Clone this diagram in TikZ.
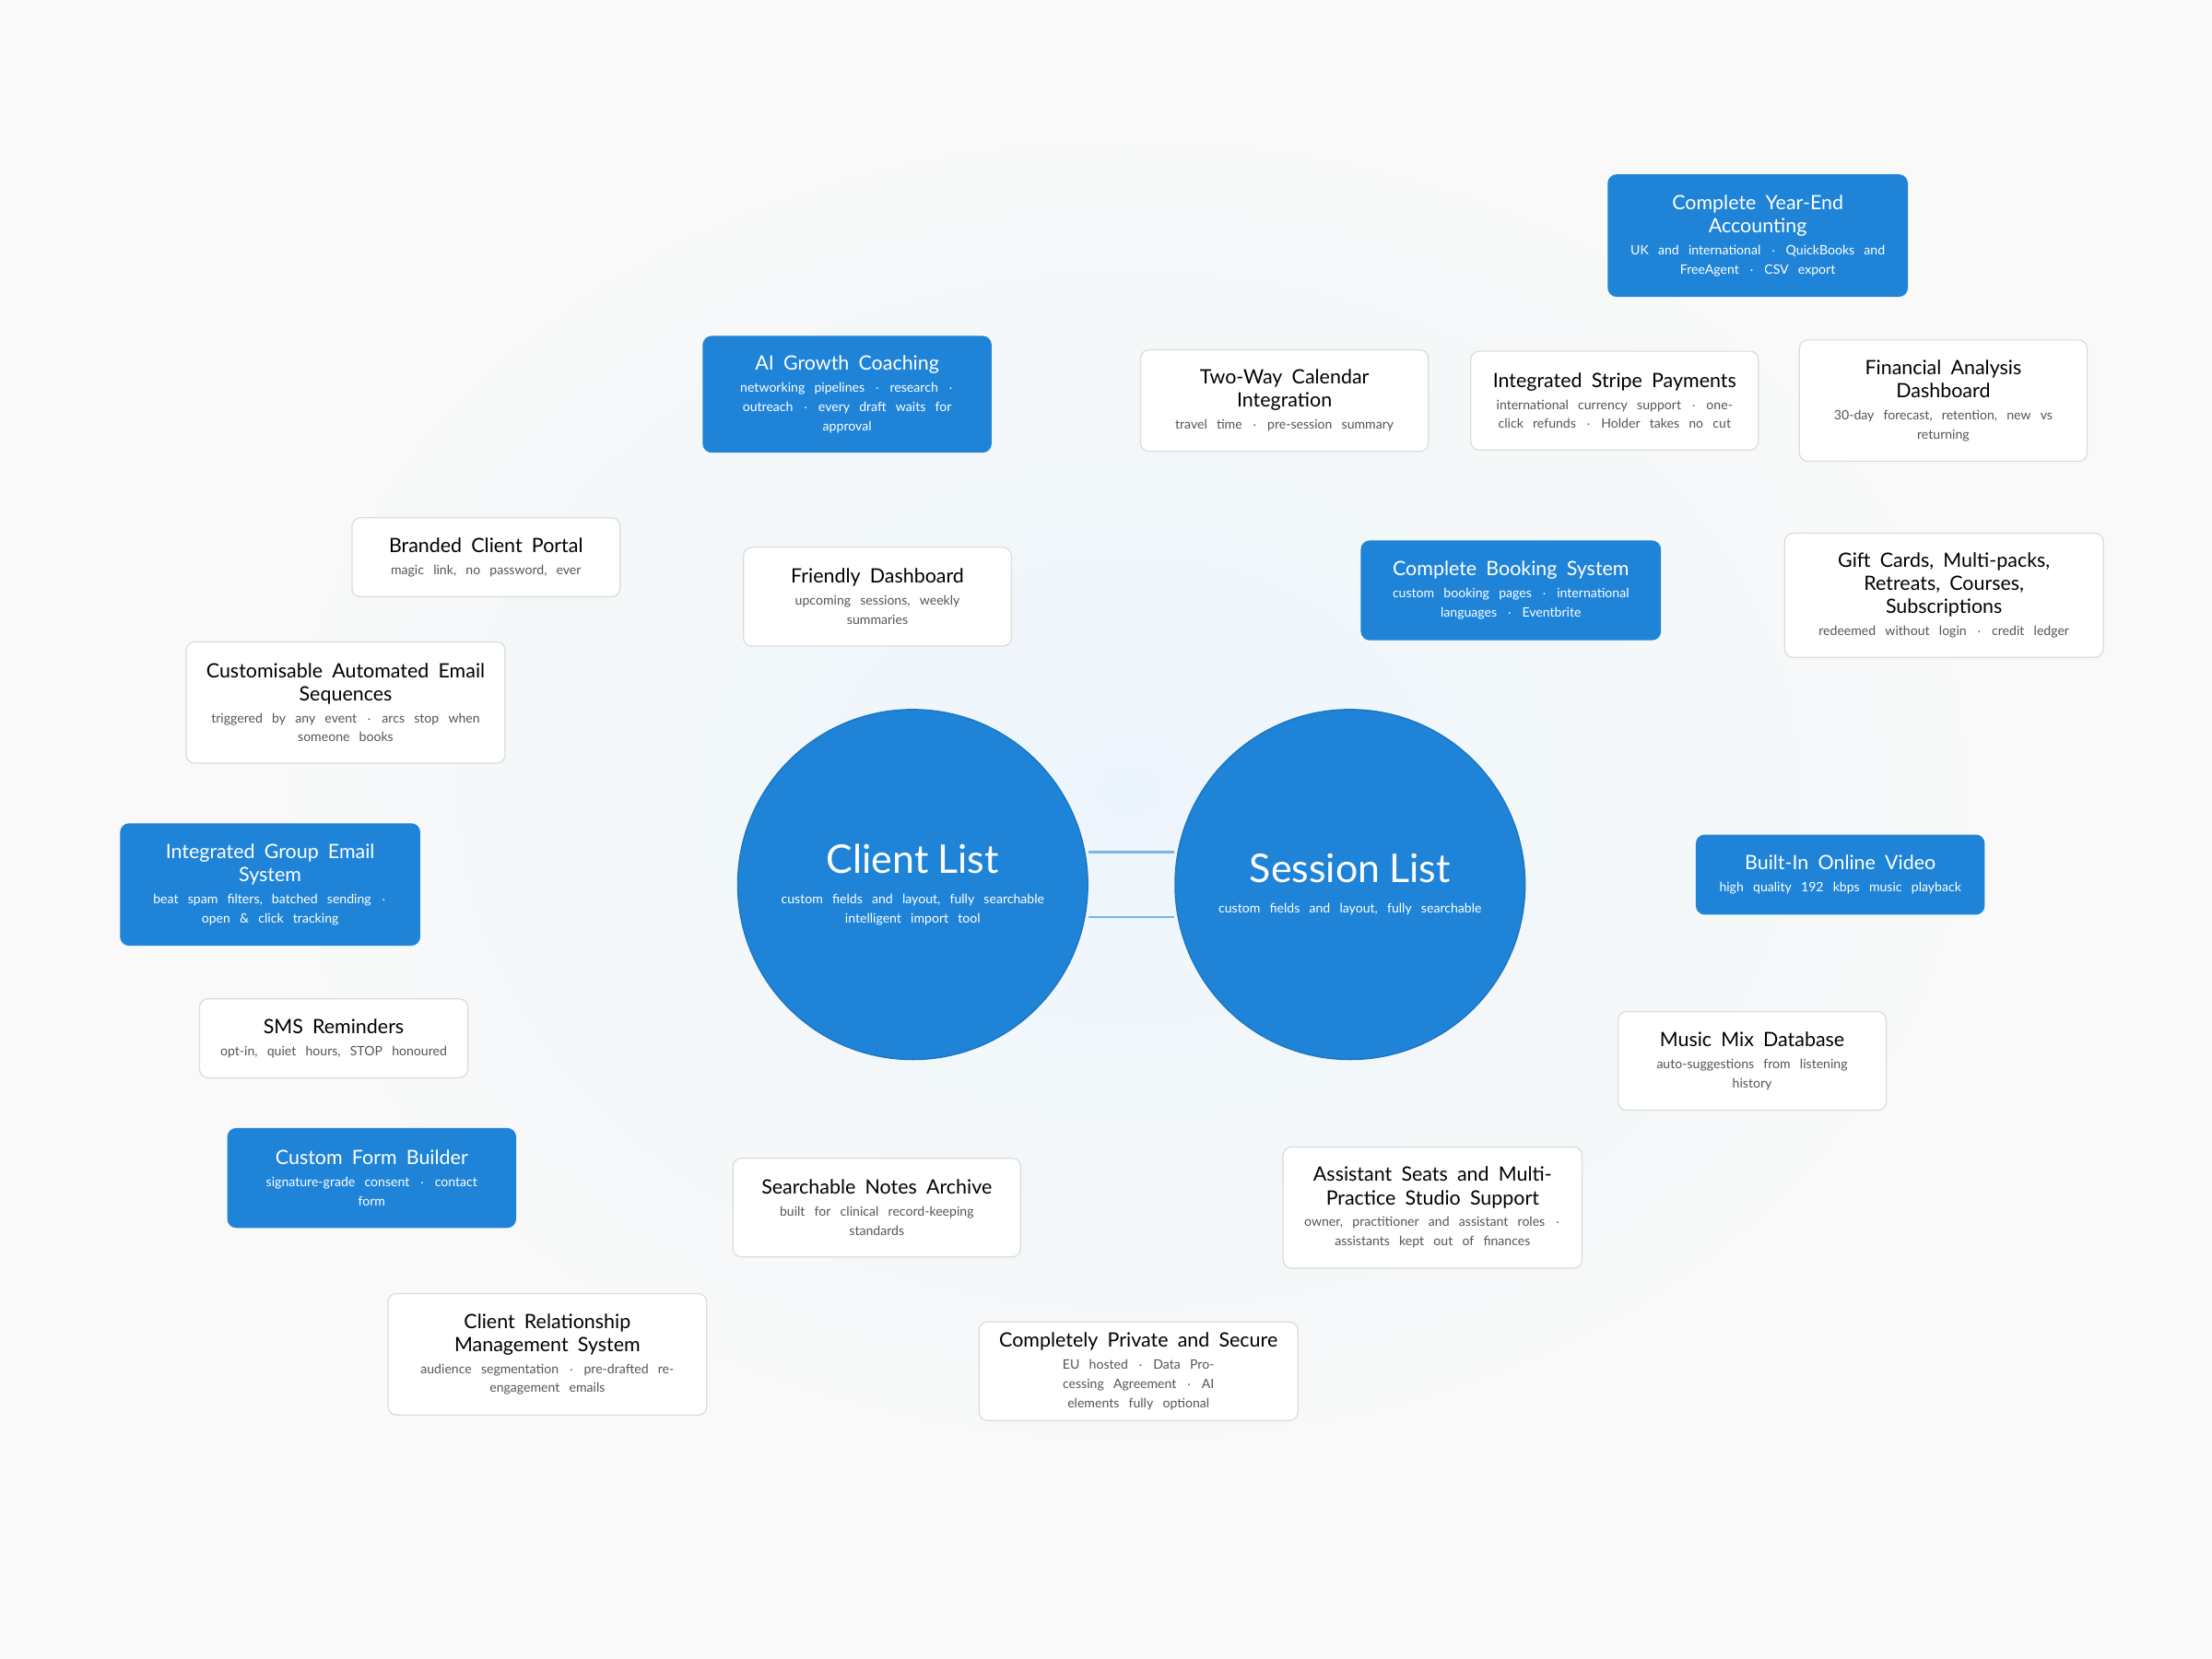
\documentclass[tikz,border=0pt]{standalone}
\usepackage{fontspec}
\setmainfont{Lato}
\usetikzlibrary{backgrounds}
\definecolor{hubblue}{HTML}{1F84D8}
\definecolor{edgeblue}{HTML}{8EC1EC}
\definecolor{pagebg}{HTML}{F8F9F8}
\definecolor{subgray}{HTML}{555555}
\newcommand{\feat}[3]{{\fontsize{7}{8.2}\selectfont #2\par}\vspace{1pt}{\fontsize{4.6}{6.8}\selectfont\color{#1}#3\par}}
\tikzset{
  plainbox/.style={draw=black!14, line width=0.4pt, fill=white, rounded corners=3pt,
                align=center, text=black, inner sep=2pt},
  bluebox/.style={draw=hubblue, fill=hubblue, rounded corners=3pt,
               align=center, text=white, inner sep=2pt},
  hub/.style={circle, draw=hubblue!90!black, fill=hubblue, line width=0.5pt, text=white,
              align=center, text width=100pt, minimum size=124pt, inner sep=0pt},
  link/.style={draw=edgeblue, line width=0.5pt}
}
\begin{document}
\begin{tikzpicture}[x=0.5pt, y=-0.5pt]

% page and glow
\fill[pagebg] (0,0) rectangle (1568,1176);
\shade[inner color=hubblue!8, outer color=pagebg] (800,560) ellipse (620 and 480);
\useasboundingbox (0,0) rectangle (1568,1176);

% hubs
\node[hub] (CLIENT) at (647,627) {{\fontsize{14}{16}\selectfont Client List\par}\vspace{4pt}{\fontsize{4.6}{6.8}\selectfont custom fields and layout, fully searchable\\intelligent import tool\par}};
\node[hub] (SESSION) at (957,627) {{\fontsize{14}{16}\selectfont Session List\par}\vspace{4pt}{\fontsize{4.6}{6.8}\selectfont custom fields and layout, fully searchable\par}};

% client side
\node[bluebox, text width=88pt, minimum width=102pt, minimum height=41pt] (AIGROW) at (600.5,279.5) {\feat{white}{AI Growth Coaching}{networking pipelines $\cdot$ research $\cdot$\\outreach $\cdot$ every draft waits for\\approval}};
\node[plainbox, text width=85pt, minimum width=95pt, minimum height=28pt] (PORTAL) at (344.5,395) {\feat{subgray}{Branded Client Portal}{magic link, no password, ever}};
\node[plainbox, text width=85pt, minimum width=95pt, minimum height=35pt] (DASH) at (622,423) {\feat{subgray}{Friendly Dashboard}{upcoming sessions, weekly\\summaries}};
\node[plainbox, text width=103pt, minimum width=113pt, minimum height=43pt] (AUTOMAIL) at (245,498) {\feat{subgray}{Customisable Automated Email\\Sequences}{triggered by any event $\cdot$ arcs stop when\\someone books}};
\node[bluebox, text width=96pt, minimum width=106pt, minimum height=43pt] (GROUPMAIL) at (191.5,627) {\feat{white}{Integrated Group Email\\System}{beat spam filters, batched sending $\cdot$\\open \& click tracking}};
\node[plainbox, text width=85pt, minimum width=95pt, minimum height=28pt] (SMS) at (236.5,736) {\feat{subgray}{SMS Reminders}{opt-in, quiet hours, STOP honoured}};
\node[bluebox, text width=92pt, minimum width=102pt, minimum height=35pt] (FORMS) at (263.5,835) {\feat{white}{Custom Form Builder}{signature-grade consent $\cdot$ contact\\form}};
\node[plainbox, text width=92pt, minimum width=102pt, minimum height=35pt] (NOTES) at (621.5,856) {\feat{subgray}{Searchable Notes Archive}{built for clinical record-keeping\\standards}};
\node[plainbox, text width=103pt, minimum width=113pt, minimum height=43pt] (CRM) at (388,960) {\feat{subgray}{Client Relationship\\Management System}{audience segmentation $\cdot$ pre-drafted re-\\engagement emails}};

% session side
\node[plainbox, text width=92pt, minimum width=102pt, minimum height=36pt] (CALENDAR) at (910.5,284) {\feat{subgray}{Two-Way Calendar\\Integration}{travel time $\cdot$ pre-session summary}};
\node[plainbox, text width=92pt, minimum width=102pt, minimum height=35pt] (STRIPE) at (1144.5,284) {\feat{subgray}{Integrated Stripe Payments}{international currency support $\cdot$ one-\\click refunds $\cdot$ Holder takes no cut}};
\node[bluebox, text width=96pt, minimum width=106pt, minimum height=43pt] (YEAREND) at (1246,167) {\feat{white}{Complete Year-End\\Accounting}{UK and international $\cdot$ QuickBooks and\\FreeAgent $\cdot$ CSV export}};
\node[plainbox, text width=92pt, minimum width=102pt, minimum height=43pt] (FINANCE) at (1377.5,284) {\feat{subgray}{Financial Analysis\\Dashboard}{30-day forecast, retention, new vs\\returning}};
\node[bluebox, text width=96pt, minimum width=106pt, minimum height=35pt] (BOOKING) at (1071,418.5) {\feat{white}{Complete Booking System}{custom booking pages $\cdot$ international\\languages $\cdot$ Eventbrite}};
\node[plainbox, text width=103pt, minimum width=113pt, minimum height=44pt] (GIFTS) at (1378,422) {\feat{subgray}{Gift Cards, Multi-packs,\\Retreats, Courses,\\Subscriptions}{redeemed without login $\cdot$ credit ledger}};
\node[bluebox, text width=92pt, minimum width=102pt, minimum height=28pt] (VIDEO) at (1304.5,620) {\feat{white}{Built-In Online Video}{high quality 192 kbps music playback}};
\node[plainbox, text width=85pt, minimum width=95pt, minimum height=35pt] (MUSIC) at (1242,752) {\feat{subgray}{Music Mix Database}{auto-suggestions from listening\\history}};
\node[plainbox, text width=96pt, minimum width=106pt, minimum height=43pt] (SEATS) at (1015.5,856) {\feat{subgray}{Assistant Seats and Multi-\\Practice Studio Support}{owner, practitioner and assistant roles $\cdot$\\assistants kept out of finances}};
\node[plainbox, text width=103pt, minimum width=113pt, minimum height=35pt] (PRIVATE) at (807,972) {\feat{subgray}{Completely Private and Secure}{EU hosted $\cdot$ Data Processing Agreement $\cdot$ AI\\elements fully optional}};

% connectors
\begin{scope}[on background layer]
\foreach \a/\b in {AIGROW/DASH, DASH/CLIENT, PORTAL/CLIENT, AUTOMAIL/CLIENT, GROUPMAIL/CLIENT,
                   SMS/CLIENT, FORMS/CLIENT, NOTES/CLIENT, CRM/CLIENT,
                   BOOKING/SESSION, CALENDAR/BOOKING, STRIPE/BOOKING, YEAREND/STRIPE, YEAREND/FINANCE,
                   FINANCE/GIFTS, BOOKING/GIFTS, VIDEO/SESSION, MUSIC/SESSION, SEATS/SESSION, PRIVATE/SESSION}
  \draw[link] (\a) -- (\b);
\end{scope}
\draw[draw=edgeblue!80!hubblue, line width=0.9pt] ([yshift=11.5pt]CLIENT.east) -- ([yshift=11.5pt]SESSION.west);
\draw[draw=edgeblue!80!hubblue, line width=0.9pt] ([yshift=-11.5pt]CLIENT.east) -- ([yshift=-11.5pt]SESSION.west);

\end{tikzpicture}
\end{document}
